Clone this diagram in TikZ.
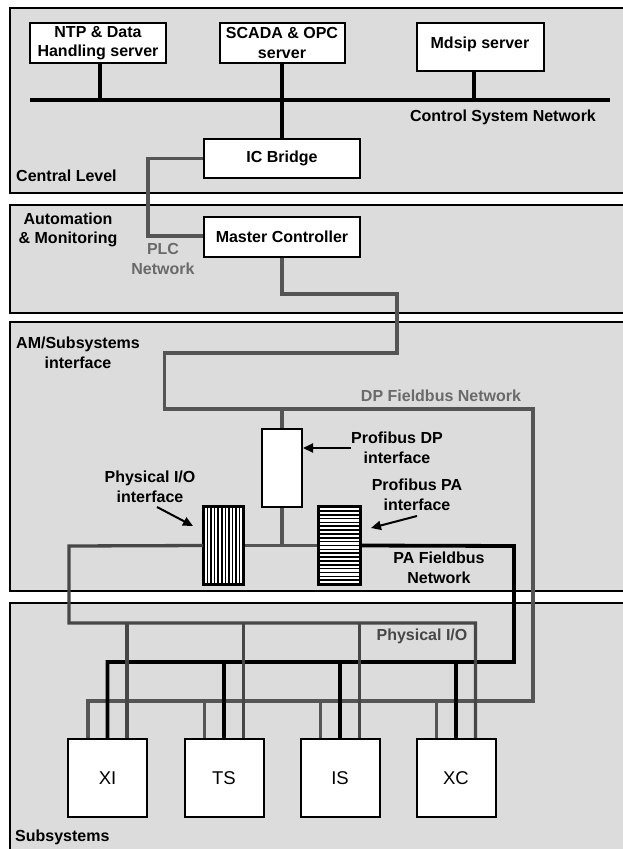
\documentclass[tikz,border=0pt]{standalone}
\usepackage{fontspec}
\setmainfont{Liberation Sans}
\usetikzlibrary{arrows.meta}
\definecolor{panelgray}{HTML}{DCDCDC}
\definecolor{wiregray}{HTML}{555555}
\definecolor{labelgray}{HTML}{6A6A6A}
\definecolor{iogray}{HTML}{474747}
\begin{document}
\begin{tikzpicture}[x=1pt,y=-1pt,
  panel/.style={draw=black,line width=1.8pt,fill=panelgray},
  srvbox/.style={draw=black,line width=2pt,fill=white,inner sep=0pt,align=center,font=\bfseries\fontsize{16}{19.5}\selectfont},
  subbox/.style={draw=black,line width=2pt,fill=white,inner sep=0pt,minimum width=79pt,minimum height=78pt,font=\fontsize{18.5}{20}\selectfont},
  ifbox/.style={draw=black,line width=2pt,fill=white,inner sep=0pt},
  lbl/.style={font=\bfseries\fontsize{16}{19.5}\selectfont,align=center,inner sep=0pt},
  graylbl/.style={lbl,text=labelgray},
  bus/.style={line width=4pt,draw=black},
  gwire/.style={line width=3.3pt,draw=wiregray},
  bwire/.style={line width=3.8pt,draw=black},
  ptr/.style={line width=2pt,-{Triangle[length=10pt,width=9pt]}},
]
\useasboundingbox (0,0) rectangle (623,849);
\clip (0,0) rectangle (623,849);
\fill[white] (0,0) rectangle (623,849);

% panels
\path[panel] (10,8) rectangle (640,193);
\path[panel] (10,205) rectangle (640,313);
\path[panel] (10,322) rectangle (640,591);
\path[panel] (10,603) rectangle (640,870);

% panel labels
\node[lbl,anchor=west] (lcentral) at (16,176) {Central Level};
\node[lbl] (lauto) at (68,230) {Automation\\\& Monitoring};
\node[lbl] (lamsub) at (78,353) {AM/Subsystems\\interface};
\node[lbl,anchor=west] (lsub) at (15,837) {Subsystems};

% central level
\node[srvbox,minimum width=136pt,minimum height=40pt] (ntp) at (98,43) {NTP \& Data\\Handling server};
\node[srvbox,minimum width=125pt,minimum height=40pt] (scada) at (282,43) {SCADA \& OPC\\server};
\node[srvbox,minimum width=127pt,minimum height=48pt,text depth=8pt] (mdsip) at (480,47) {Mdsip server};
\coordinate (busL) at (30,100);
\coordinate (busR) at (610,100);
\draw[bus] (busL) -- (busR);
\draw[bus,line width=3.3pt] ([xshift=2pt]ntp.south) -- ([xshift=2pt]ntp.south |- busL);
\draw[bus,line width=3.3pt] ([xshift=-6pt]mdsip.south) -- ([xshift=-6pt]mdsip.south |- busL);
\node[lbl] (lcsn) at (503,117) {Control System Network};
\node[srvbox,minimum width=156pt,minimum height=39pt] (icb) at (282,158.5) {IC Bridge};
\draw[bus,line width=3.3pt] (scada.south) -- (icb.north);

% automation & monitoring
\node[srvbox,minimum width=156pt,minimum height=40pt] (mc) at (282,237) {Master Controller};
\coordinate (plcB) at (148,236);
\draw[gwire] (icb.west) -| (plcB) -- ([yshift=1pt]mc.west);
\node[graylbl] (lplc) at (163,259) {PLC\\Network};

% subsystems boxes
\node[subbox] (nxi) at (107.5,778) {XI};
\node[subbox] (nts) at (224,778) {TS};
\node[subbox] (nis) at (340,778) {IS};
\node[subbox] (nxc) at (456,778) {XC};

% DP fieldbus
\coordinate (dp1) at (397,294);
\coordinate (dp2) at (164.5,353);
\coordinate (dp3) at (533,409);
\coordinate (dpbus) at (533,701);
\draw[gwire] (mc.south) |- (dp1) |- (dp2) |- (dp3) -- (dpbus) -| ([xshift=-19.5pt]nxi.north);
\foreach \n in {nts,nis,nxc}
  \draw[gwire] ([xshift=-19.5pt]\n.north) -- ([xshift=-19.5pt]\n.north |- dpbus);
\node[graylbl] (ldp) at (441,396) {DP Fieldbus Network};

% interfaces
\node[ifbox,minimum width=40pt,minimum height=78pt] (pdp) at (282,468) {};
\node[ifbox,minimum width=39pt,minimum height=77pt] (pio) at (223.5,545.5) {};
\node[ifbox,minimum width=41pt,minimum height=77pt] (ppa) at (339.5,545.5) {};
\draw[gwire] (pdp.north |- dp3) -- (pdp.north);
\draw[gwire] (pdp.south) -- (pdp.south |- pio.east);
\draw[gwire] (pio.east) -- (ppa.west);
\foreach \i in {1,...,10}
  \draw[line width=1.5pt] (204+\i*3.55,508) -- (204+\i*3.55,583);
\draw[line width=2pt] (pio.south west) rectangle (pio.north east);
\foreach \i in {1,...,19}
  \draw[line width=1.6pt] (320,507+\i*3.85) -- (359,507+\i*3.85);
\draw[line width=2pt] (ppa.south west) rectangle (ppa.north east);

% PA fieldbus
\coordinate (pa1) at (514,546);
\coordinate (pabus) at (514,662);
\draw[bwire] (ppa.east) -- (pa1) -- (pabus) -| (nxi.north);
\foreach \n in {nts,nis,nxc}
  \draw[bwire] (\n.north) -- (\n.north |- pabus);

% Physical I/O
\coordinate (io1) at (69,546);
\coordinate (iobus) at (69,623);
\draw[gwire,draw=iogray] (pio.west) -- (io1) -- (iobus) -| ([xshift=19.5pt]nxc.north);
\foreach \n in {nxi,nts,nis}
  \draw[gwire,draw=iogray] ([xshift=19.5pt]\n.north) -- ([xshift=19.5pt]\n.north |- iobus);
\node[lbl,text=iogray] (lio) at (422,636) {Physical I/O};

% interface labels and pointers
\node[lbl] (lpdp) at (397,448) {Profibus DP\\interface};
\draw[ptr] (lpdp.west) -- (lpdp.west -| pdp.east);
\node[lbl] (lpio) at (150,487) {Physical I/O\\interface};
\coordinate (apio1) at (157,507);
\coordinate (apio2) at (193,526);
\draw[ptr] (apio1) -- (apio2);
\node[lbl] (lppa) at (417,495) {Profibus PA\\interface};
\coordinate (appa1) at (417,516);
\coordinate (appa2) at (371,528);
\draw[ptr] (appa1) -- (appa2);
\node[lbl] (lpafb) at (439,568) {PA Fieldbus\\Network};
\end{tikzpicture}
\end{document}
